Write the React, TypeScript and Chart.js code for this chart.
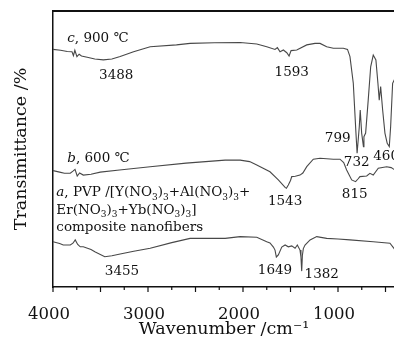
import React, { useEffect, useRef } from 'react';
import { Chart, registerables } from 'chart.js';

Chart.register(...registerables);

const SERIF = '"DejaVu Serif", "Liberation Serif", serif';
const INK = '#111111';
const TRACE = '#484848';

// c: fibres calcined at 900 ℃ (wavenumber cm^-1 / transmittance)
const WN_C = [
  4000, 3920, 3850, 3800, 3785, 3770, 3748, 3725, 3700, 3640, 3560, 3470, 3380, 3293, 3152,
  2977, 2700, 2557, 2300, 2030, 1855, 1750, 1663, 1638, 1610, 1575, 1539, 1515, 1494, 1434,
  1329, 1242, 1189, 1119, 1049, 944, 900, 874, 839, 811, 799, 776, 766, 751, 732, 727, 709,
  682, 656, 629, 601, 580, 566, 551, 530, 506, 482, 460, 446, 425, 408, 400,
];
const T_C = [
  79.2, 78.9, 78.5, 78.4, 77.1, 78.9, 76.8, 77.6, 77.0, 76.6, 76.0, 75.7, 76.0, 76.8, 78.4,
  80.1, 80.7, 81.2, 81.4, 81.5, 81.0, 80.1, 79.2, 79.8, 78.4, 79.0, 78.1, 77.0, 78.8, 79.0,
  80.7, 81.2, 81.2, 80.1, 79.6, 79.6, 79.2, 76.8, 67.9, 51.3, 44.6, 53.4, 59.0, 51.3, 46.8, 50.1, 51.3,
  62.3, 73.4, 77.3, 75.7, 68.0, 62.3, 66.8, 59.0, 51.3, 47.9, 46.8, 53.4, 67.9, 69.0, 69.5,
];

// b: fibres calcined at 600 ℃
const WN_B = [
  4000, 3930, 3880, 3818, 3790, 3768, 3745, 3720, 3681, 3600, 3503, 3300, 2977, 2600, 2188,
  2030, 1930, 1855, 1716, 1628, 1557, 1543, 1523, 1500, 1487, 1450, 1400, 1370, 1329, 1260,
  1189, 1049, 979, 940, 909, 856, 815, 790, 769, 698, 664, 629, 576, 488, 440, 411, 400,
];
const T_B = [
  38.8, 38.3, 37.9, 37.9, 38.6, 39.2, 37.0, 38.0, 37.3, 37.6, 38.3, 39.0, 40.1, 41.3, 42.3,
  42.3, 41.8, 40.7, 38.4, 35.7, 33.2, 32.9, 34.0, 35.5, 36.8, 36.9, 37.3, 38.0, 40.1, 42.6,
  42.9, 42.6, 42.6, 41.5, 39.0, 35.7, 35.1, 36.0, 36.8, 37.0, 37.9, 37.3, 39.6, 40.1, 39.8, 39.2, 39.0,
];

// a: as-spun composite nanofibres
const WN_A = [
  4000, 3930, 3892, 3818, 3790, 3766, 3740, 3713, 3681, 3600, 3555, 3455, 3380, 3293, 3150,
  2977, 2750, 2557, 2188, 2030, 1855, 1750, 1716, 1680, 1663, 1649, 1628, 1592, 1557, 1523,
  1487, 1452, 1428, 1400, 1390, 1382, 1375, 1365, 1347, 1294, 1224, 1119, 1000, 874, 629,
  453, 411, 400,
];
const T_A = [
  15.1, 14.5, 14.0, 14.0, 14.6, 15.7, 14.2, 13.4, 13.4, 12.5, 11.7, 10.1, 10.4, 11.0, 11.9,
  12.9, 14.8, 16.2, 16.2, 16.8, 16.6, 15.1, 14.7, 13.3, 12.3, 10.0, 10.7, 13.3, 14.0, 13.4,
  13.7, 12.9, 14.0, 12.3, 10.0, 5.3, 10.5, 12.8, 14.0, 15.7, 16.8, 16.2, 16.0, 15.7, 15.1,
  14.6, 12.9, 12.3,
];

const X_LABELS = [4000, 3000, 2000, 1000];

// band positions written beside the traces (anchor: wavenumber, transmittance at text baseline)
const BAND_LABELS = [
  { text: '3488', wn: 3334, t: 69.3, align: 'center' },
  { text: '1593', wn: 1487, t: 70.3, align: 'center' },
  { text: '799', wn: 1003, t: 48.4, align: 'center' },
  { text: '732', wn: 803, t: 40.3, align: 'center' },
  { text: '460', wn: 629, t: 42.3, align: 'left' },
  { text: '1543', wn: 1557, t: 27.3, align: 'center' },
  { text: '815', wn: 824, t: 29.6, align: 'center' },
  { text: '3455', wn: 3274, t: 4.0, align: 'center' },
  { text: '1649', wn: 1663, t: 4.3, align: 'center' },
  { text: '1382', wn: 1171, t: 2.9, align: 'center' },
];

type Seg = { s: string; sub?: boolean; it?: boolean };
const SAMPLE_NOTES: { wn: number; t: number; segs: Seg[] }[] = [
  { wn: 3850, t: 81.8, segs: [{ s: 'c', it: true }, { s: ', 900 ℃' }] },
  { wn: 3850, t: 41.8, segs: [{ s: 'b', it: true }, { s: ', 600 ℃' }] },
  {
    wn: 3965, t: 30.2,
    segs: [
      { s: 'a', it: true }, { s: ', PVP /[Y(NO' }, { s: '3', sub: true }, { s: ')' }, { s: '3', sub: true },
      { s: '+Al(NO' }, { s: '3', sub: true }, { s: ')' }, { s: '3', sub: true }, { s: '+' },
    ],
  },
  {
    wn: 3965, t: 24.5,
    segs: [
      { s: 'Er(NO' }, { s: '3', sub: true }, { s: ')' }, { s: '3', sub: true },
      { s: '+Yb(NO' }, { s: '3', sub: true }, { s: ')' }, { s: '3', sub: true }, { s: ']' },
    ],
  },
  { wn: 3965, t: 18.7, segs: [{ s: 'composite nanofibers' }] },
];

const toPoints = (wn: number[], t: number[]) => wn.map((x, i) => ({ x, y: t[i] }));

const framePlugin = {
  id: 'frame',
  afterDraw(chart: any) {
    const { ctx, chartArea, scales } = chart;
    const xs = scales.x;
    const ys = scales.y;
    ctx.save();
    ctx.strokeStyle = INK;

    // upper frame edge
    ctx.lineWidth = 2;
    ctx.beginPath();
    ctx.moveTo(chartArea.left - 0.75, chartArea.top);
    ctx.lineTo(chartArea.right, chartArea.top);
    ctx.stroke();

    // outward tick marks: long every 500, short every 250
    ctx.lineWidth = 1.2;
    for (let v = 4000; v >= 400; v -= 250) {
      const px = xs.getPixelForValue(v);
      const len = v % 500 === 0 ? 5 : 3;
      ctx.beginPath();
      ctx.moveTo(px, chartArea.bottom);
      ctx.lineTo(px, chartArea.bottom + len);
      ctx.stroke();
    }

    ctx.fillStyle = INK;
    ctx.textBaseline = 'alphabetic';

    // band position labels
    ctx.font = `13.5px ${SERIF}`;
    for (const b of BAND_LABELS) {
      ctx.textAlign = b.align as CanvasTextAlign;
      ctx.fillText(b.text, xs.getPixelForValue(b.wn), ys.getPixelForValue(b.t));
    }

    // sample captions with italics and subscripts
    ctx.textAlign = 'left';
    for (const note of SAMPLE_NOTES) {
      let x = xs.getPixelForValue(note.wn);
      const y = ys.getPixelForValue(note.t);
      for (const seg of note.segs) {
        if (seg.sub) {
          ctx.font = `9px ${SERIF}`;
          ctx.fillText(seg.s, x, y + 3.5);
        } else {
          ctx.font = `${seg.it ? 'italic ' : ''}13.5px ${SERIF}`;
          ctx.fillText(seg.s, x, y);
        }
        x += ctx.measureText(seg.s).width;
      }
    }
    ctx.restore();
  },
};

export default function App() {
  const ref = useRef<HTMLCanvasElement | null>(null);

  useEffect(() => {
    if (!ref.current) return;
    const line = (data: { x: number; y: number }[]) => ({
      data,
      borderColor: TRACE,
      borderWidth: 1.1,
      pointRadius: 0,
      tension: 0,
      fill: false,
    });
    const chart = new Chart(ref.current, {
      type: 'line',
      data: {
        datasets: [
          line(toPoints(WN_C, T_C)),
          line(toPoints(WN_B, T_B)),
          line(toPoints(WN_A, T_A)),
        ],
      },
      options: {
        responsive: false,
        animation: false,
        layout: { padding: { top: 11, right: 5, left: 0, bottom: 0 } },
        plugins: { legend: { display: false }, tooltip: { enabled: false } },
        scales: {
          x: {
            type: 'linear',
            reverse: true,
            min: 400,
            max: 4000,
            afterBuildTicks: (s: any) => {
              s.ticks = X_LABELS.map((value) => ({ value }));
            },
            afterFit: (s: any) => {
              s.height = 59;
            },
            grid: { display: false, drawTicks: false },
            border: { display: true, color: INK, width: 1.5 },
            ticks: {
              color: INK,
              padding: 18,
              labelOffset: -4,
              maxRotation: 0,
              autoSkip: false,
              font: { family: SERIF, size: 16.5 },
              callback: (v: any) => String(v),
            },
            title: {
              display: true,
              text: 'Wavenumber /cm⁻¹',
              color: INK,
              font: { family: SERIF, size: 17.5 },
              padding: { top: 0, bottom: 6 },
            },
          },
          y: {
            min: 0,
            max: 92,
            afterFit: (s: any) => {
              s.width = 53;
            },
            grid: { display: false, drawTicks: false },
            border: { display: true, color: INK, width: 1.5 },
            ticks: { display: false },
            title: {
              display: true,
              text: 'Transimittance /%',
              color: INK,
              font: { family: SERIF, size: 17.5 },
              padding: { top: 10.5, bottom: 0 },
            },
          },
        },
      },
      plugins: [framePlugin],
    } as any);
    return () => chart.destroy();
  }, []);

  return (
    <div
      style={{
        position: 'fixed',
        left: 0,
        top: 0,
        width: 394,
        height: 346,
        overflow: 'hidden',
        background: '#fff',
      }}
    >
      <canvas ref={ref} width={400} height={346} style={{ display: 'block' }} />
    </div>
  );
}
